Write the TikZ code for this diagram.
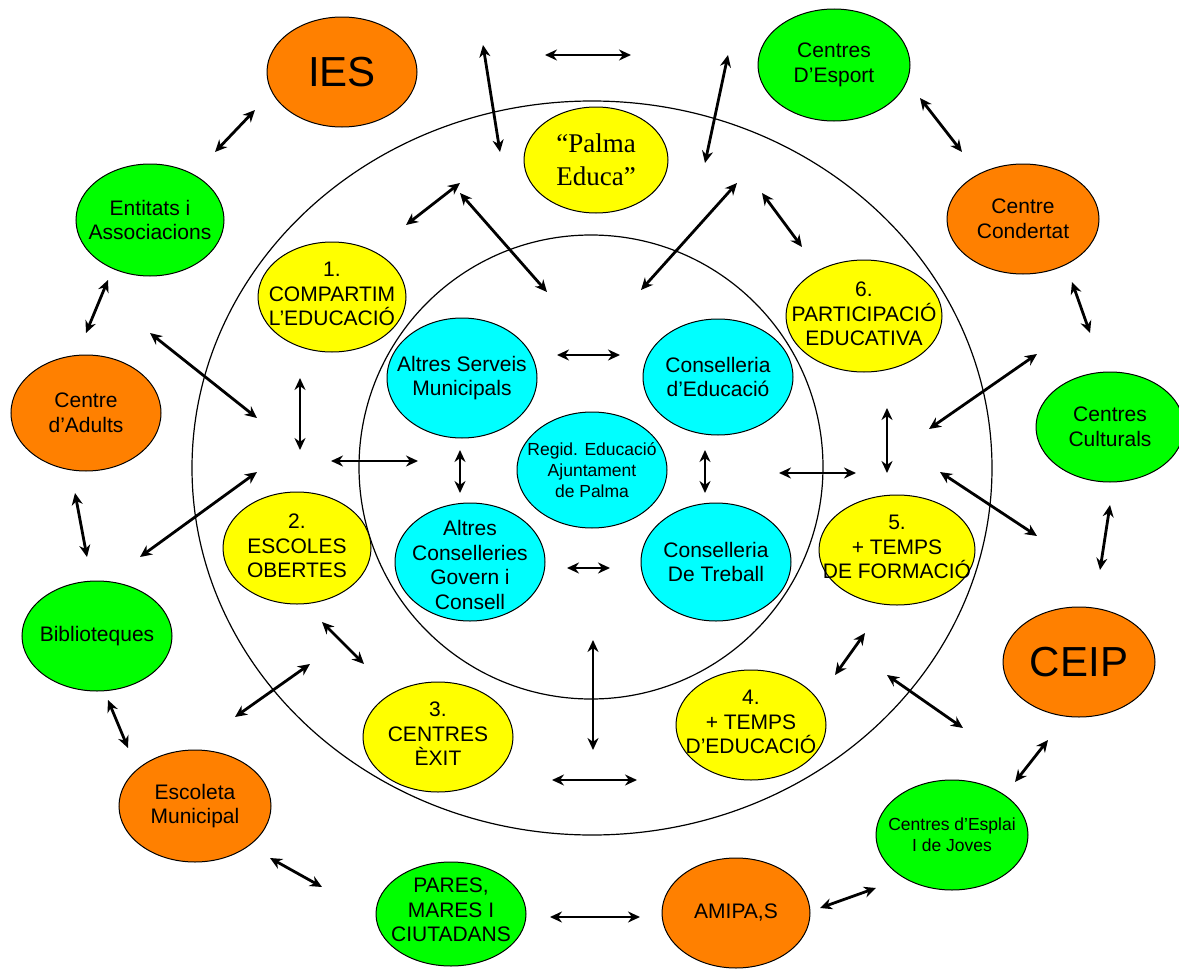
\documentclass[tikz,border=0pt]{standalone}
\usepackage{fontspec}
\setmainfont{Liberation Sans}
\newfontfamily\palmafont{Liberation Serif}
\usetikzlibrary{shapes.geometric,arrows.meta}

\definecolor{orng}{RGB}{255,128,0}
\definecolor{grn}{RGB}{0,255,0}
\definecolor{ylw}{RGB}{255,255,0}
\definecolor{cyn}{RGB}{0,255,255}

\begin{document}
\begin{tikzpicture}[x=1pt,y=-1pt,
  blob/.style={ellipse,draw,line width=1pt,inner sep=0pt,minimum width=150pt,minimum height=110pt},
  txt/.style={align=center,inner sep=0pt,font=\fontsize{21}{24.5}\selectfont},
  small/.style={txt,font=\fontsize{17.5}{21}\selectfont},
  big/.style={txt,font=\fontsize{42}{48}\selectfont},
  link/.style={line width=2.8pt,{Stealth[length=12pt,width=11pt]}-{Stealth[length=12pt,width=11pt]}}]
  \useasboundingbox (0,0) rectangle (1179,969);
  % rings
  \draw[line width=1.2pt] (592,468) ellipse [x radius=400pt, y radius=367pt];
  \draw[line width=1.2pt] (591,467) ellipse [x radius=232pt, y radius=232pt];
  % outer ring of centres
  \node[blob,fill=orng] (ies) at (342,72) {};
  \node[big] (ies-t) at (ies) {IES};
  \node[blob,fill=grn,minimum width=152pt,minimum height=112pt] (esport) at (834,65) {};
  \node[txt] (esport-t) at (esport) {Centres\\D’Esport};
  \node[blob,fill=orng,minimum width=152pt] (condertat) at (1023,219) {};
  \node[txt] (condertat-t) at (condertat) {Centre\\Condertat};
  \node[blob,fill=grn,minimum width=148pt] (culturals) at (1110,427) {};
  \node[txt] (culturals-t) at (culturals) {Centres\\Culturals};
  \node[blob,fill=orng,minimum width=152pt] (ceip) at (1079,662) {};
  \node[big] (ceip-t) at (ceip) {CEIP};
  \node[blob,fill=grn,minimum width=152pt] (esplai) at (952,835) {};
  \node[small] (esplai-t) at (esplai) {Centres d’Esplai\\I de Joves};
  \node[blob,fill=orng,minimum width=148pt] (amipa) at (736,913) {};
  \node[txt] (amipa-t) at (amipa) {AMIPA,S};
  \node[blob,fill=grn,minimum height=104pt] (pares) at (451,914) {};
  \node[txt] (pares-t) at (451,910) {PARES,\\MARES I\\CIUTADANS};
  \node[blob,fill=orng,minimum width=152pt,minimum height=112pt] (escoleta) at (195,806) {};
  \node[txt] (escoleta-t) at (escoleta) {Escoleta\\Municipal};
  \node[blob,fill=grn] (biblio) at (97,636) {};
  \node[txt] (biblio-t) at (biblio) {Biblioteques};
  \node[blob,fill=orng,minimum height=116pt] (adults) at (86,413) {};
  \node[txt] (adults-t) at (adults) {Centre\\d’Adults};
  \node[blob,fill=grn,minimum width=148pt,minimum height=112pt] (entitats) at (150,220) {};
  \node[txt] (entitats-t) at (entitats) {Entitats i\\Associacions};
  % lines of action
  \node[blob,fill=ylw,minimum width=144pt,minimum height=106pt] (palma) at (596,160) {};
  \node[txt,font=\palmafont\fontsize{27}{33}\selectfont] (palma-t) at (palma) {“Palma\\Educa”};
  \node[blob,fill=ylw,minimum width=148pt] (compartim) at (332,297) {};
  \node[txt] (compartim-t) at (332,294) {1.\\COMPARTIM\\L’EDUCACIÓ};
  \node[blob,fill=ylw,minimum width=156pt,minimum height=112pt] (particip) at (864,316) {};
  \node[txt] (particip-t) at (864,314) {6.\\PARTICIPACIÓ\\EDUCATIVA};
  \node[blob,fill=ylw,minimum width=148pt,minimum height=112pt] (escoles) at (297,548) {};
  \node[txt] (escoles-t) at (297,546) {2.\\ESCOLES\\OBERTES};
  \node[blob,fill=ylw,minimum width=156pt] (formacio) at (897,550) {};
  \node[txt] (formacio-t) at (897,547) {5.\\+ TEMPS\\DE FORMACIÓ};
  \node[blob,fill=ylw] (exit) at (438,737) {};
  \node[txt] (exit-t) at (438,734) {3.\\CENTRES\\ÈXIT};
  \node[blob,fill=ylw] (educacio) at (751,725) {};
  \node[txt] (educacio-t) at (751,722) {4.\\+ TEMPS\\D’EDUCACIÓ};
  % institutions
  \node[blob,fill=cyn,minimum height=120pt] (serveis) at (462,378) {};
  \node[txt] (serveis-t) at (serveis) {Altres Serveis\\Municipals};
  \node[blob,fill=cyn,minimum height=116pt] (cedu) at (718,377) {};
  \node[txt] (cedu-t) at (cedu) {Conselleria\\d’Educació};
  \node[blob,fill=cyn,minimum height=116pt] (regid) at (592,470) {};
  \node[small] (regid-t) at (regid) {Regid. Educació\\Ajuntament\\de Palma};
  \node[blob,fill=cyn,minimum height=118pt] (govern) at (470,562) {};
  \node[txt] (govern-t) at (470,565) {Altres\\Conselleries\\Govern i\\Consell};
  \node[blob,fill=cyn,minimum height=118pt] (treball) at (716,562) {};
  \node[txt] (treball-t) at (treball) {Conselleria\\De Treball};
  % arrows
  \foreach \n/\ax/\ay/\bx/\by in {
    1/255/110/215/152, 2/108/280/86/333, 3/75/493/87/557, 4/108/700/128/748,
    5/270/858/322/887, 6/550/917/640/917, 7/820/908/876/888, 8/1015/782/1048/740,
    9/1110/505/1100/570, 10/1072/282/1090/333, 11/920/98/962/152, 12/545/55/631/55,
    13/483/45/500/152, 14/728/55/705/163, 15/150/333/257/418, 16/140/557/257/472,
    17/300/378/300/450, 18/331/461/418/461, 19/406/225/460/183, 20/460/193/547/292,
    21/641/290/737/183, 22/762/193/802/247, 23/929/429/1037/354, 24/940/472/1037/536,
    25/887/408/887/473, 26/779/473/856/473, 27/887/675/963/728, 28/835/675/865/633,
    29/557/355/620/355, 30/460/450/460/493, 31/705/450/705/493, 32/567/568/610/568,
    33/593/640/593/750, 34/552/780/637/780, 35/322/622/364/664, 36/235/717/310/664}{
    \coordinate (a\n) at (\ax,\ay);
    \coordinate (b\n) at (\bx,\by);
    \draw[link] (a\n) -- (b\n);
  }
\end{tikzpicture}
\end{document}
